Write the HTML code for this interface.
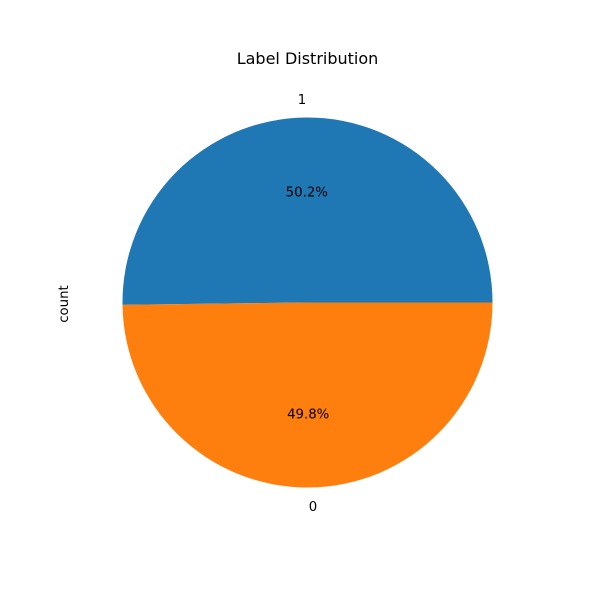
<!DOCTYPE html>
<html><head><meta charset="utf-8"><style>
body{margin:0;background:#fff;}
svg text{font-family:"DejaVu Sans","Liberation Sans",sans-serif;}
</style></head><body>
<svg width="600" height="600" viewBox="0 0 600 600">
<rect width="600" height="600" fill="#fff"/>
<text x="307.5" y="64" text-anchor="middle" font-size="16">Label Distribution</text>
<text x="68" y="304" text-anchor="middle" font-size="13.3" transform="rotate(-90 68 304)">count</text>
<g id="pie"></g>
</svg>
<script>
const categories = ["1", "0"];
const counts = [502, 498];
const colors = ["#1f77b4", "#ff7f0e"];
const cx = 307.5, cy = 302.5, r = 185;
const g = document.getElementById('pie');
const ns = 'http://www.w3.org/2000/svg';
const total = counts.reduce((a,b)=>a+b,0);
let start = 0;
function pt(a, d){ return [cx + d*Math.cos(a), cy - d*Math.sin(a)]; }
counts.forEach((v,i)=>{
  const sweep = v/total*2*Math.PI;
  const end = start + sweep;
  const [x1,y1] = pt(start,r), [x2,y2] = pt(end,r);
  const large = sweep > Math.PI ? 1 : 0;
  const p = document.createElementNS(ns,'path');
  p.setAttribute('d',`M${cx},${cy} L${x1},${y1} A${r},${r} 0 ${large} 0 ${x2},${y2} Z`);
  p.setAttribute('fill',colors[i]);
  
  
  g.appendChild(p);
  const mid = (start+end)/2;
  const [lx,ly] = pt(mid, r*1.1);
  const t = document.createElementNS(ns,'text');
  t.setAttribute('x',lx); t.setAttribute('y',ly+5);
  t.setAttribute('text-anchor', Math.cos(mid) > 0 ? 'start' : 'end');
  t.setAttribute('font-size','13.3');
  t.textContent = categories[i];
  
  
  g.appendChild(t);
  const [px,py] = pt(mid, r*0.6);
  const t2 = document.createElementNS(ns,'text');
  t2.setAttribute('x',px); t2.setAttribute('y',py+5);
  t2.setAttribute('text-anchor','middle'); t2.setAttribute('font-size','13.3');
  t2.textContent = (v/total*100).toFixed(1)+'%';
  
  
  g.appendChild(t2);
  start = end;
});
</script>
</body></html>
